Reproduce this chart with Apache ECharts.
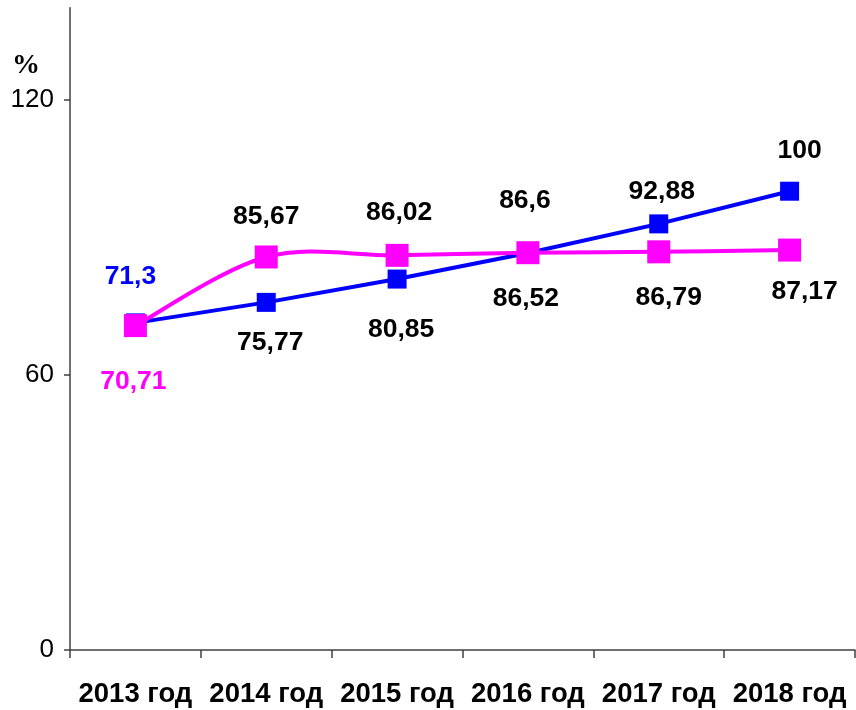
<!DOCTYPE html>
<html>
<head>
<meta charset="utf-8">
<script src="https://cdn.jsdelivr.net/npm/echarts@6/dist/echarts.min.js"></script>
<style>
html,body{margin:0;padding:0;background:#fff;}
#c{width:856px;height:710px;}
</style>
</head>
<body>
<div id="c"></div>
<script>
// ---- data ----
var categories = ['2013 год', '2014 год', '2015 год', '2016 год', '2017 год', '2018 год'];
var blueValues = [71.3, 75.77, 80.85, 86.52, 92.88, 100];
var pinkValues = [70.71, 85.67, 86.02, 86.6, 86.79, 87.17];
var yTicks = [0, 60, 120];

// ---- label layout (style only) ----
var blueOffsets = [[-5, -46], [4, 40], [4, 51], [-2, 46], [3, -32], [10, -41]];
var pinkOffsets = [[-2, 56], [0, -40], [2, -43], [-3, -52], [10, 46], [15, 42]];
var blueLabelColors = ['#0000FF', '#000', '#000', '#000', '#000', '#000'];
var pinkLabelColors = ['#FF00FF', '#000', '#000', '#000', '#000', '#000'];

function fmt(v) { return String(v).replace('.', ','); }
function buildData(vals, offs, cols) {
  return vals.map(function (v, i) {
    return {
      value: v,
      label: { offset: offs[i], color: cols[i] }
    };
  });
}

// Catmull-Rom style smoothed segment (like spreadsheet smoothing), through the axis scales
function smoothSegment(params, api) {
  var i = params.dataIndex;
  var n = pinkValues.length;
  if (i >= n - 1) return null;
  var P = function (k) {
    k = Math.max(0, Math.min(n - 1, k));
    return api.coord([k, pinkValues[k]]);
  };
  var p0 = P(i - 1), p1 = P(i), p2 = P(i + 1), p3 = P(i + 2);
  var t = 1 / 6;
  var c1 = [p1[0] + (p2[0] - p0[0]) * t, p1[1] + (p2[1] - p0[1]) * t];
  var c2 = [p2[0] - (p3[0] - p1[0]) * t, p2[1] - (p3[1] - p1[1]) * t];
  return {
    type: 'bezierCurve',
    shape: { x1: p1[0], y1: p1[1], x2: p2[0], y2: p2[1], cpx1: c1[0], cpy1: c1[1], cpx2: c2[0], cpy2: c2[1] },
    style: { stroke: '#FF00FF', lineWidth: 4, fill: null, lineCap: 'round' },
    silent: true
  };
}

var FONT = '"Liberation Sans", Arial, sans-serif';
var chart = echarts.init(document.getElementById('c'), null, { renderer: 'canvas' });
chart.setOption({
  backgroundColor: '#fff',
  animation: false,
  grid: { left: 70, right: 1, top: 7.7, bottom: 60, containLabel: false },
  graphic: [{
    type: 'text', left: 12, top: 52,
    style: { text: '%', font: 'bold 28px "Liberation Serif", "Times New Roman", serif', fill: '#000' }
  }],
  xAxis: {
    type: 'category',
    data: categories,
    boundaryGap: true,
    axisLine: { lineStyle: { color: '#404040', width: 1.5 } },
    axisTick: { show: true, length: 8, lineStyle: { color: '#404040', width: 1.5 } },
    axisLabel: { interval: 0, margin: 30, fontSize: 27.5, fontWeight: 'bold', color: '#000', fontFamily: FONT },
    splitLine: { show: false }
  },
  yAxis: {
    type: 'value',
    min: 0, max: 140, interval: 20,
    axisLine: { show: true, lineStyle: { color: '#404040', width: 1.5 } },
    axisTick: { show: true, length: 6, customValues: yTicks, lineStyle: { color: '#404040', width: 1.5 } },
    axisLabel: { customValues: yTicks, margin: 16, fontSize: 26, color: '#000', fontFamily: FONT },
    splitLine: { show: false }
  },
  series: [{
    type: 'line',
    data: buildData(blueValues, blueOffsets, blueLabelColors),
    symbol: 'rect',
    symbolSize: 19,
    lineStyle: { color: '#0000FF', width: 4 },
    itemStyle: { color: '#0000FF' },
    label: {
      show: true, position: 'inside', fontSize: 26.5, fontWeight: 'bold', fontFamily: FONT,
      formatter: function (p) { return fmt(p.value); }
    },
    z: 2
  }, {
    type: 'custom',
    data: pinkValues.map(function (v, i) { return [i, v]; }),
    encode: { x: 0, y: 1 },
    renderItem: smoothSegment,
    clip: false,
    silent: true,
    z: 3
  }, {
    type: 'line',
    data: buildData(pinkValues, pinkOffsets, pinkLabelColors),
    symbol: 'rect',
    symbolSize: 23,
    lineStyle: { color: '#FF00FF', width: 0, opacity: 0 },
    itemStyle: { color: '#FF00FF' },
    label: {
      show: true, position: 'inside', fontSize: 26.5, fontWeight: 'bold', fontFamily: FONT,
      formatter: function (p) { return fmt(p.value); }
    },
    z: 4
  }]
});
</script>
</body>
</html>
